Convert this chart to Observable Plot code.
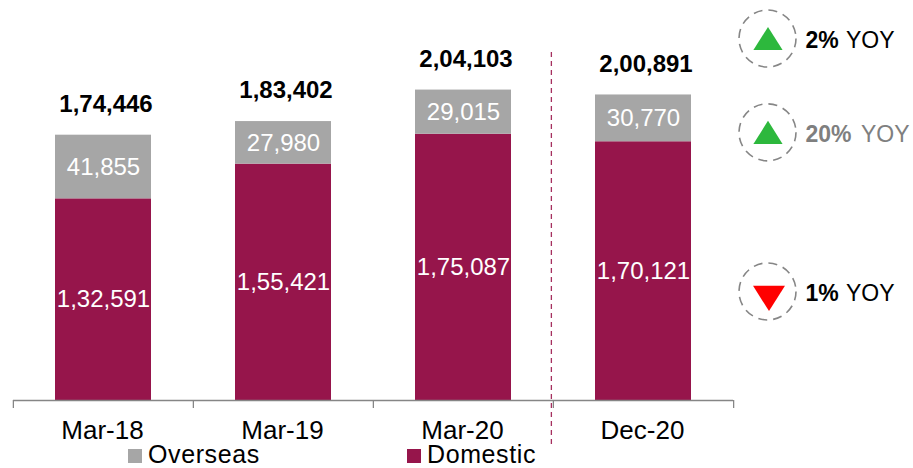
<!DOCTYPE html>
<html>
<head>
<meta charset="utf-8">
<script src="https://cdn.jsdelivr.net/npm/d3@7"></script>
<script src="https://cdn.jsdelivr.net/npm/@observablehq/plot@0.6"></script>
<style>
html,body{margin:0;padding:0;background:#fff;overflow:hidden}
body{width:913px;height:468px;font-family:"Liberation Sans",Arial,sans-serif;position:relative}
svg{display:block}
.legend{position:relative;height:27px;font-size:25px;line-height:24px;letter-spacing:.6px;color:#000}
.legend span{position:absolute;top:1px;white-space:nowrap}
.legend i{position:absolute;top:8px;width:14px;height:14px}
</style>
</head>
<body>
<div id="chart"></div>
<div class="legend" id="legend"></div>
<script>
const categories = ["Mar-18", "Mar-19", "Mar-20", "Dec-20"];
const domestic = [132591, 155421, 175087, 170121];
const overseas = [41855, 27980, 29015, 30770];
const totals = [174446, 183402, 204103, 200891];
const seriesNames = ["Overseas", "Domestic"];
const seriesColors = ["#a6a6a6", "#96154b"];
const annotationPos = [238000, 176300, 71700];
const annotationPct = ["2%", "20%", "1%"];
const annotationUp = [true, true, false];
const annotationTextColor = ["#000000", "#7f7f7f", "#000000"];
const annotationFill = ["#2db83d", "#2db83d", "#ff0000"];

const fmt = v => v.toLocaleString("en-IN");
const rows = [
  ...categories.map((c, i) => ({cat: c, series: "Domestic", value: domestic[i]})),
  ...categories.map((c, i) => ({cat: c, series: "Overseas", value: overseas[i]}))
];
const totalRows = categories.map((c, i) => ({cat: c, total: totals[i]}));
const notes = annotationPos.map((y, i) => ({
  cat: "Dec-20", y, pct: annotationPct[i], up: annotationUp[i],
  color: annotationTextColor[i], fill: annotationFill[i]
}));

const triUp = {draw(ctx, size) {
  const r = Math.sqrt(size / Math.PI);
  ctx.moveTo(0, -0.79 * r); ctx.lineTo(r, 0.79 * r); ctx.lineTo(-r, 0.79 * r); ctx.closePath();
}};
const triDown = {draw(ctx, size) {
  const r = Math.sqrt(size / Math.PI);
  ctx.moveTo(0, 0.79 * r); ctx.lineTo(r, -0.79 * r); ctx.lineTo(-r, -0.79 * r); ctx.closePath();
}};

const W = 913, H = 441;
const band = (733 - 12) / 4;
const font = '"Liberation Sans", Arial, sans-serif';

const plot = Plot.plot({
  width: W, height: H,
  marginTop: 0, marginBottom: 41, marginLeft: 12, marginRight: 180,
  style: {fontFamily: font, background: "#fff", overflow: "visible"},
  x: {domain: categories, padding: 0, axis: null},
  y: {domain: [0, 263000], axis: null},
  color: {domain: seriesNames, range: seriesColors},
  marks: [
    Plot.barY(rows, Plot.stackY({x: "cat", y: "value", fill: "series", order: null, insetLeft: 42, insetRight: 42})),
    Plot.text(rows, Plot.stackY({x: "cat", y: "value", order: null, text: d => fmt(d.value), fill: "#fff", fontSize: 24})),
    Plot.text(totalRows, {x: "cat", y: "total", text: d => fmt(d.total), dx: 2.5, dy: -31, fill: "#000", fontSize: 24, fontWeight: "bold"}),
    Plot.tickY(categories, {x: d => d, y: () => 0, stroke: "#868686", strokeWidth: 1.3, strokeOpacity: 1}),
    Plot.ruleX(categories, {x: d => d, y1: 0, y2: -5260, dx: -band / 2, stroke: "#868686", strokeWidth: 1.3}),
    Plot.ruleX(["Dec-20"], {x: d => d, y1: 0, y2: -5260, dx: band / 2, stroke: "#868686", strokeWidth: 1.3}),
    Plot.ruleX(["Dec-20"], {x: d => d, y1: -29000, y2: 230500, dx: -band / 2 - 2, stroke: "#a5305f", strokeWidth: 1.3, strokeDasharray: "5 4"}),
    Plot.axisX({tickSize: 0, tickPadding: 20, dx: -1, fontSize: 26, fill: "#000", label: null}),
    Plot.dot(notes, {x: "cat", y: "y", dx: 124, r: 28.5, stroke: "#868686", strokeWidth: 1.6, strokeDasharray: "9 6", fill: "none"}),
    Plot.dot(notes.filter(d => d.up), {x: "cat", y: "y", dx: 124.5, r: 14.6, symbol: triUp, fill: "fill", stroke: "none"}),
    Plot.dot(notes.filter(d => !d.up), {x: "cat", y: "y", dx: 125.5, r: 16, symbol: triDown, fill: "fill", stroke: "none", dy: 7}),
    Plot.text(notes, {x: "cat", y: "y", dx: 162, dy: 2, text: "pct", fill: "color", fontSize: 23, fontWeight: "bold", textAnchor: "start"}),
    Plot.text(notes.filter(d => d.pct.length === 2), {x: "cat", y: "y", dx: 202.5, dy: 2, text: () => "YOY", fill: "color", fontSize: 23, textAnchor: "start"}),
    Plot.text(notes.filter(d => d.pct.length === 3), {x: "cat", y: "y", dx: 217.5, dy: 2, text: () => "YOY", fill: "color", fontSize: 23, textAnchor: "start"})
  ]
});
document.getElementById("chart").append(plot);

const legend = document.getElementById("legend");
const legendX = [128, 407];
seriesNames.forEach((name, i) => {
  const sw = document.createElement("i");
  sw.style.left = legendX[i] + "px";
  sw.style.background = seriesColors[i];
  const label = document.createElement("span");
  label.style.left = (legendX[i] + 20) + "px";
  label.textContent = name;
  legend.append(sw, label);
});
</script>
</body>
</html>
